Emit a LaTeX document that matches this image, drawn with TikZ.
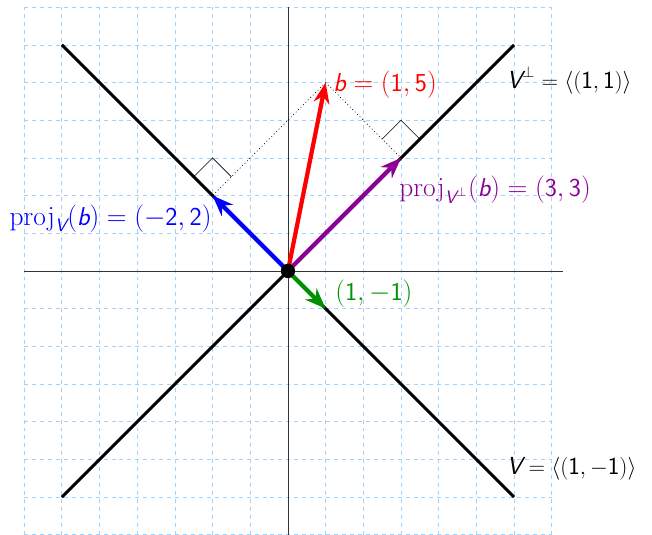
\documentclass[tikz,border=0pt]{standalone}
\usepackage{amsmath,amssymb}
\usetikzlibrary{arrows.meta}
\definecolor{gridblue}{RGB}{160,212,250}
\definecolor{projpurple}{RGB}{140,0,150}
\definecolor{vgreen}{RGB}{0,145,0}
\newcommand{\mv}[1]{\text{\sffamily\itshape #1}}
\newcommand{\ms}[1]{\text{\sffamily #1}}
\begin{document}
\begin{tikzpicture}[
  gr/.style={gridblue, dashed, line width=0.5pt},
  ax/.style={black!80, line width=0.5pt},
  ln/.style={black, line width=2.3pt},
  vec/.style={-{Stealth[length=5.5mm,width=4.2mm]}, line width=3.2pt},
  lbl/.style={font=\fontsize{19.5}{23}\selectfont, inner sep=0pt},
  sub/.style={font=\fontsize{18.6}{22}\selectfont, inner sep=0pt},
  rt/.style={black, line width=0.5pt}
]
  \useasboundingbox (-7.64,-6.98) rectangle (9.66,7.19);
  \draw[gr] (-7,-7) grid (7,7);
  \draw[ax] (-7,0) -- (7.3,0);
  \draw[ax] (0,-7) -- (0,7);

  % lines V and V-perp
  \coordinate (o) at (0,0);
  \coordinate (pa) at (-6,6);
  \coordinate (pb) at (6,-6);
  \coordinate (qa) at (-6,-6);
  \coordinate (qb) at (6,6);
  \draw[ln] (pa) -- (pb);
  \draw[ln] (qa) -- (qb);

  % feet and dotted drops
  \coordinate (b) at (1,5);
  \coordinate (fv) at (-2,2);
  \coordinate (fw) at (3,3);
  \draw[dotted, line width=0.6pt] (b) -- (fv);
  \draw[dotted, line width=0.6pt] (b) -- (fw);
  \draw[rt] (-2.5,2.5) -- (-2,3) -- (-1.5,2.5);
  \draw[rt] (3.5,3.5) -- (3,4) -- (2.5,3.5);

  % vectors
  \draw[vec, red] (o) -- (b);
  \draw[vec, blue] (o) -- (fv);
  \draw[vec, projpurple] (o) -- (fw);
  \draw[vec, vgreen] (o) -- (1,-1) coordinate (g);
  \fill (o) circle (0.19);

  % labels
  \node[lbl, red, anchor=west] (lb) at (1.2,4.95) {$\mv{b}=(\ms{1},\ms{5})$};
  \node[lbl, blue, anchor=east] (lv) at (-2.02,1.4) {$\mathrm{proj}_{\mv{V}}(\mv{b})=(-\ms{2},\ms{2})$};
  \node[lbl, projpurple, anchor=west] (lw) at (2.95,2.15) {$\mathrm{proj}_{\mv{V}^\perp}(\mv{b})=(\ms{3},\ms{3})$};
  \node[lbl, vgreen, anchor=west] (lg) at (1.25,-0.6) {$(\ms{1},-\ms{1})$};
  \node[sub, anchor=west] (lp) at (5.8,5.05) {$\mv{V}^\perp=\langle(\ms{1},\ms{1})\rangle$};
  \node[sub, anchor=west] (lq) at (5.8,-5.25) {$\mv{V}=\langle(\ms{1},-\ms{1})\rangle$};
\end{tikzpicture}
\end{document}
